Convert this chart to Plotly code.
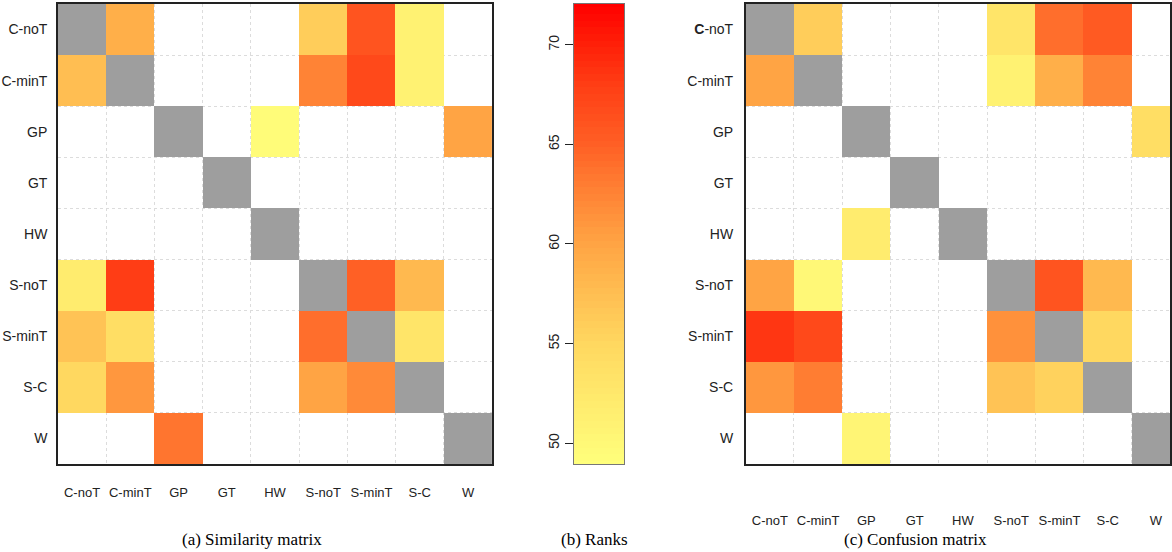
import plotly.graph_objects as go
import numpy as np

categories = ["C-noT", "C-minT", "GP", "GT", "HW", "S-noT", "S-minT", "S-C", "W"]
N = None

# Similarity matrix ranks (rows top->bottom, columns left->right); None = blank, diagonal drawn grey
similarity = [
    [N,    59.0, N, N, N,    56.0, 66.0, 51.0, N],
    [57.5, N,    N, N, N,    62.5, 67.0, 51.0, N],
    [N,    N,    N, N, 49.5, N,    N,    N,    60.0],
    [N,    N,    N, N, N,    N,    N,    N,    N],
    [N,    N,    N, N, N,    N,    N,    N,    N],
    [52.0, 68.0, N, N, N,    N,    65.0, 58.0, N],
    [57.0, 54.0, N, N, N,    64.0, N,    53.0, N],
    [55.0, 61.0, N, N, N,    60.0, 62.0, N,    N],
    [N,    N,    63.5, N, N, N,   N,    N,    N],
]

# Confusion matrix ranks
confusion = [
    [N,    56.0, N,    N, N, 53.0, 64.0, 65.5, N],
    [60.0, N,    N,    N, N, 51.0, 59.0, 62.5, N],
    [N,    N,    N,    N, N, N,    N,    N,    54.0],
    [N,    N,    N,    N, N, N,    N,    N,    N],
    [N,    N,    52.0, N, N, N,    N,    N,    N],
    [60.0, 50.0, N,    N, N, N,    66.0, 58.0, N],
    [68.5, 67.0, N,    N, N, 61.5, N,    55.0, N],
    [61.0, 63.0, N,    N, N, 57.0, 55.5, N,    N],
    [N,    N,    50.5, N, N, N,    N,    N,    N],
]

rank_min, rank_max = 48.95, 72.05
rank_ticks = [50, 55, 60, 65, 70]
captions = ["(a) Similarity matrix", "(b) Ranks", "(c) Confusion matrix"]

colorscale = [
    [0.00, "#FFFF7C"],
    [0.13, "#FFEC6E"],
    [0.26, "#FFD860"],
    [0.43, "#FFB04A"],
    [0.48, "#FFA444"],
    [0.61, "#FF7C32"],
    [0.70, "#FF5E24"],
    [0.83, "#FF3C14"],
    [0.91, "#FF2008"],
    [1.00, "#FF0000"],
]
GREY = "#9E9E9E"

diag = [[1 if i == j else None for j in range(len(categories))] for i in range(len(categories))]

W, H = 1172, 552
def px_x(a, b):
    return [a / W, b / W]
def px_y(top, bottom):
    return [(H - bottom) / H, (H - top) / H]

fig = go.Figure()

for k, mat in [("", similarity), ("3", confusion)]:
    fig.add_trace(go.Heatmap(z=mat, x=categories, y=categories, colorscale=colorscale,
                             zmin=rank_min, zmax=rank_max, showscale=False,
                             xaxis="x" + k, yaxis="y" + k, hoverongaps=False))
    fig.add_trace(go.Heatmap(z=diag, x=categories, y=categories,
                             colorscale=[[0, GREY], [1, GREY]], showscale=False,
                             xaxis="x" + k, yaxis="y" + k, hoverongaps=False))

# Colour key as its own heatmap
levels = np.linspace(rank_min, rank_max, 70)
fig.add_trace(go.Heatmap(z=[[v] for v in levels], y=levels, x=[0], colorscale=colorscale,
                         zmin=rank_min, zmax=rank_max, showscale=False,
                         xaxis="x2", yaxis="y2"))

ytickfont = dict(family="Liberation Sans, Arial, sans-serif", size=14, color="#222")
xtickfont = dict(family="Liberation Sans, Arial, sans-serif", size=13, color="#222")
grid_common = dict(type="category", tickson="boundaries", showgrid=True, gridcolor="#DCDCDC",
                   griddash="dot", gridwidth=1, showline=True, linecolor="#222", linewidth=1.5,
                   mirror=True, ticks="", zeroline=False, layer="above traces")

c_ticktext = ["<b>C</b>-noT"] + categories[1:]

fig.update_layout(
    width=W, height=H, margin=dict(l=0, r=0, t=0, b=0),
    paper_bgcolor="white", plot_bgcolor="white",
    xaxis=dict(domain=px_x(58, 493), anchor="y", range=[-0.5, 8.5], tickangle=0, tickfont=xtickfont,
               categoryorder="array", categoryarray=categories, ticklabelstandoff=16, **grid_common),
    yaxis=dict(domain=px_y(4, 464), anchor="x", range=[8.5, -0.5], tickfont=ytickfont,
               categoryorder="array", categoryarray=categories, ticklabelstandoff=6, **grid_common),
    xaxis3=dict(domain=px_x(747, 1172), anchor="y3", range=[-0.5, 8.29], tickangle=0, tickfont=xtickfont,
                categoryorder="array", categoryarray=categories, ticklabelstandoff=44, **grid_common),
    yaxis3=dict(domain=px_y(4, 464), anchor="x3", range=[8.5, -0.5], tickfont=ytickfont,
                categoryorder="array", categoryarray=categories, ticklabelstandoff=8,
                tickvals=categories, ticktext=c_ticktext, **grid_common),
    xaxis2=dict(domain=px_x(575, 625), anchor="y2", showticklabels=False, ticks="",
                showgrid=False, zeroline=False, showline=True, mirror=True,
                linecolor="#777", linewidth=1, range=[-0.5, 0.5]),
    yaxis2=dict(domain=px_y(4, 464), anchor="x2", range=[rank_min, rank_max],
                tickvals=rank_ticks, tickangle=-90, ticks="outside", ticklen=8,
                tickcolor="#222", showgrid=False, zeroline=False, showline=True, mirror=True,
                linecolor="#777", linewidth=1, tickfont=ytickfont),
)

cap_x = [252, 596, 917]
for cx, txt in zip(cap_x, captions):
    fig.add_annotation(x=cx / W, y=(H - 539) / H, xref="paper", yref="paper", text=txt,
                       showarrow=False, xanchor="center", yanchor="middle",
                       font=dict(family="Liberation Serif, Times New Roman, serif", size=17, color="black"))

fig.write_html("out.html", config={"displayModeBar": False},
               post_script="document.body.style.margin='0';document.body.style.overflow='hidden';")
